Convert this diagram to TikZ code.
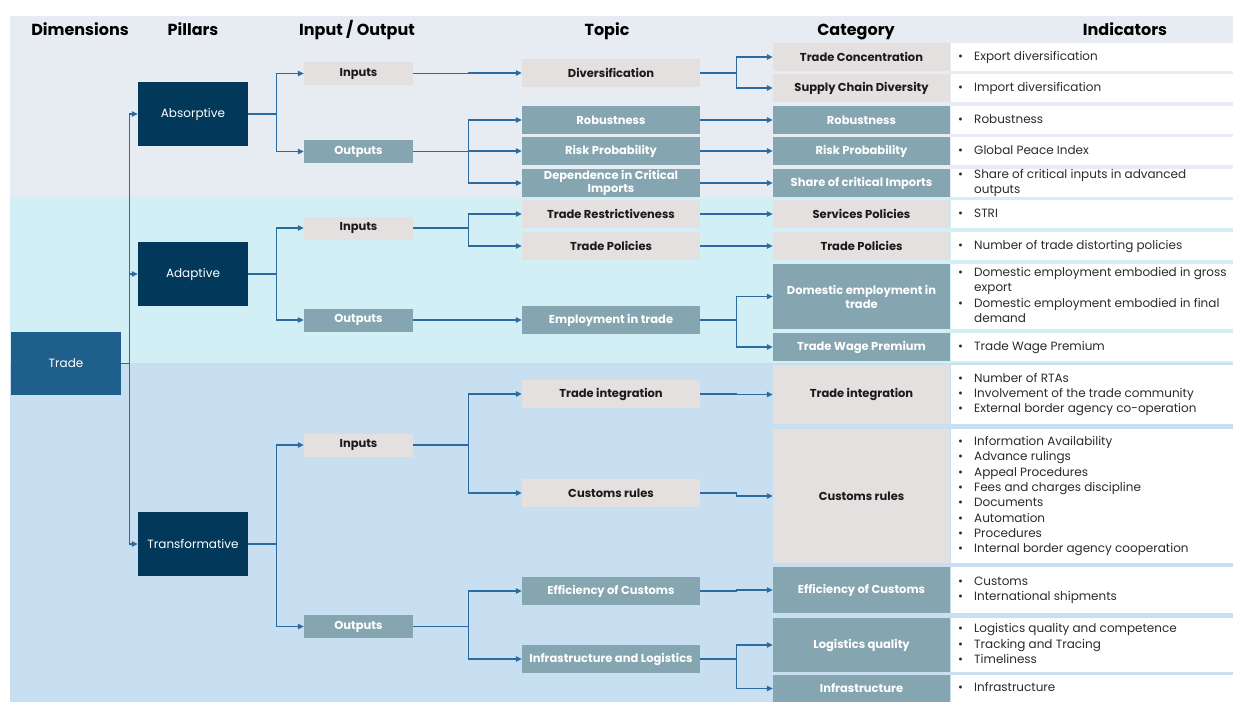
\documentclass[tikz,border=0pt]{standalone}
\usepackage{fontspec}
\setmainfont{Poppins}
\usetikzlibrary{arrows.meta}
\definecolor{bandA}{HTML}{E6ECF1}
\definecolor{bandB}{HTML}{D1EFF4}
\definecolor{bandC}{HTML}{C8DFF1}
\definecolor{navy}{HTML}{02395A}
\definecolor{tradeblue}{HTML}{1F5F8C}
\definecolor{lgray}{HTML}{E3E0DF}
\definecolor{tealbox}{HTML}{85A5B0}
\definecolor{connc}{HTML}{2D6AA0}
\definecolor{txtdark}{HTML}{1A1A1A}
\definecolor{indtxt}{HTML}{2B2B2B}
\newcommand{\indlist}[1]{\begin{tabular}{@{}p{16pt}@{}l@{}}#1\end{tabular}}
\newcommand{\bul}{\textbullet}
\begin{document}
\begin{tikzpicture}[x=1pt,y=-1pt,
  header/.style={inner sep=0, anchor=base, text=black, font=\bfseries\fontsize{16}{18}\selectfont},
  pillar/.style={fill=navy, text=white, minimum width=110pt, minimum height=64pt, inner sep=0, font=\fontsize{12}{14}\selectfont},
  iobox/.style={minimum width=109pt, minimum height=23pt, inner sep=0, font=\bfseries\fontsize{11.5}{13}\selectfont},
  gbox/.style={fill=lgray, text=txtdark},
  tbox/.style={fill=tealbox, text=white},
  topic/.style={minimum width=178pt, minimum height=28pt, inner sep=0, align=center, font=\bfseries\fontsize{11.5}{14}\selectfont},
  cat/.style={minimum width=177pt, inner sep=0, align=center, font=\bfseries\fontsize{11.5}{14}\selectfont},
  indbox/.style={fill=white, minimum width=282pt, inner sep=0},
  indtext/.style={anchor=west, inner sep=0, text=indtxt, font=\fontsize{12}{15.3}\selectfont},
  conn/.style={draw=connc, line width=1.1pt, -{Triangle[length=6pt,width=5.5pt]}}
]
\useasboundingbox (0,0) rectangle (1233,702);
\fill[bandA] (10,16) rectangle (1233,197);
\fill[bandB] (10,197) rectangle (1233,363);
\fill[bandC] (10,363) rectangle (1233,702);

% headers
\node[header] (h1) at (80,35) {Dimensions};
\node[header] (h2) at (193,35) {Pillars};
\node[header] (h3) at (357,35) {Input / Output};
\node[header] (h4) at (607,35) {Topic};
\node[header] (h5) at (856,35) {Category};
\node[header] (h6) at (1125,35) {Indicators};

% dimension and pillars
\node[pillar, fill=tradeblue, minimum height=63pt] (trade) at (66,363.5) {Trade};
\node[pillar] (abs) at (193,114) {Absorptive};
\node[pillar] (ada) at (193,274) {Adaptive};
\node[pillar] (tra) at (193,544) {Transformative};

% input / output
\node[iobox,gbox] (absin) at (358.5,73.5) {Inputs};
\node[iobox,tbox] (absout) at (358.5,151.5) {Outputs};
\node[iobox,gbox] (adain) at (358.5,228) {Inputs};
\node[iobox,tbox] (adaout) at (358.5,320) {Outputs};
\node[iobox,gbox] (train) at (358.5,445) {Inputs};
\node[iobox,tbox] (traout) at (358.5,626.5) {Outputs};

% topics
\node[topic,gbox] (div) at (611,73) {Diversification};
\node[topic,tbox] (rob) at (611,120) {Robustness};
\node[topic,tbox] (riskp) at (611,151) {Risk Probability};
\node[topic,tbox] (dep) at (611,183) {Dependence in Critical\\[-1.5pt]Imports};
\node[topic,gbox] (trest) at (611,214) {Trade Restrictiveness};
\node[topic,gbox] (tpol) at (611,246) {Trade Policies};
\node[topic,tbox] (emp) at (611,320) {Employment in trade};
\node[topic,gbox] (tint) at (611,394) {Trade integration};
\node[topic,gbox] (cust) at (611,493) {Customs rules};
\node[topic,tbox] (eff) at (611,591) {Efficiency of Customs};
\node[topic,tbox] (infl) at (611,659) {Infrastructure and Logistics};

% categories
\node[cat,gbox,minimum height=28pt] (ctc) at (861.5,57) {Trade Concentration};
\node[cat,gbox,minimum height=28pt] (cscd) at (861.5,88) {Supply Chain Diversity};
\node[cat,tbox,minimum height=28pt] (crob) at (861.5,120) {Robustness};
\node[cat,tbox,minimum height=28pt] (crp) at (861.5,151) {Risk Probability};
\node[cat,tbox,minimum height=28pt] (csci) at (861.5,183) {Share of critical Imports};
\node[cat,gbox,minimum height=28pt] (csp) at (861.5,214) {Services Policies};
\node[cat,gbox,minimum height=28pt] (ctp) at (861.5,246) {Trade Policies};
\node[cat,tbox,minimum height=65pt] (cde) at (861.5,296.5) {Domestic employment in\\trade};
\node[cat,tbox,minimum height=28pt] (ctwp) at (861.5,347) {Trade Wage Premium};
\node[cat,gbox,minimum height=59pt] (cti) at (861.5,394.5) {Trade integration};
\node[cat,gbox,minimum height=134pt] (ccr) at (861.5,496) {Customs rules};
\node[cat,tbox,minimum height=46pt] (cec) at (861.5,590) {Efficiency of Customs};
\node[cat,tbox,minimum height=54pt] (clq) at (861.5,645) {Logistics quality};
\node[cat,tbox,minimum height=27pt] (cinf) at (861.5,688.5) {Infrastructure};

% indicator boxes
\node[indbox,minimum height=28pt] (i1) at (1092,57) {};
\node[indbox,minimum height=28pt] (i2) at (1092,88) {};
\node[indbox,minimum height=28pt] (i3) at (1092,120) {};
\node[indbox,minimum height=28pt] (i4) at (1092,151) {};
\node[indbox,minimum height=28pt] (i5) at (1092,183) {};
\node[indbox,minimum height=28pt] (i6) at (1092,214) {};
\node[indbox,minimum height=28pt] (i7) at (1092,246) {};
\node[indbox,minimum height=65pt] (i8) at (1092,296.5) {};
\node[indbox,minimum height=28pt] (i9) at (1092,347) {};
\node[indbox,minimum height=59pt] (i10) at (1092,394.5) {};
\node[indbox,minimum height=134pt] (i11) at (1092,496) {};
\node[indbox,minimum height=46pt] (i12) at (1092,590) {};
\node[indbox,minimum height=54pt] (i13) at (1092,645) {};
\node[indbox,minimum height=27pt] (i14) at (1092,688.5) {};

% indicator texts
\node[indtext] (t1) at (958,57) {\indlist{\bul & Export diversification}};
\node[indtext] (t2) at (958,88) {\indlist{\bul & Import diversification}};
\node[indtext] (t3) at (958,120) {\indlist{\bul & Robustness}};
\node[indtext] (t4) at (958,151) {\indlist{\bul & Global Peace Index}};
\node[indtext] (t5) at (958,183) {\indlist{\bul & Share of critical inputs in advanced\\ & outputs}};
\node[indtext] (t6) at (958,214) {\indlist{\bul & STRI}};
\node[indtext] (t7) at (958,246) {\indlist{\bul & Number of trade distorting policies}};
\node[indtext] (t8) at (958,296.5) {\indlist{\bul & Domestic employment embodied in gross\\ & export\\ \bul & Domestic employment embodied in final\\ & demand}};
\node[indtext] (t9) at (958,347) {\indlist{\bul & Trade Wage Premium}};
\node[indtext] (t10) at (958,394.5) {\indlist{\bul & Number of RTAs\\ \bul & Involvement of the trade community\\ \bul & External border agency co-operation}};
\node[indtext] (t11) at (958,496) {\indlist{\bul & Information Availability\\ \bul & Advance rulings\\ \bul & Appeal Procedures\\ \bul & Fees and charges discipline\\ \bul & Documents\\ \bul & Automation\\ \bul & Procedures\\ \bul & Internal border agency cooperation}};
\node[indtext] (t12) at (958,590) {\indlist{\bul & Customs\\ \bul & International shipments}};
\node[indtext] (t13) at (958,645) {\indlist{\bul & Logistics quality and competence\\ \bul & Tracking and Tracing\\ \bul & Timeliness}};
\node[indtext] (t14) at (958,688.5) {\indlist{\bul & Infrastructure}};

% connectors: trade -> pillars
\draw[conn] (trade.east) -- ++(8,0) |- (abs.west);
\draw[conn] (trade.east) -- ++(8,0) |- (ada.west);
\draw[conn] (trade.east) -- ++(8,0) |- (tra.west);
% pillars -> io
\draw[conn] (abs.east) -- ++(28,0) |- (absin.west);
\draw[conn] (abs.east) -- ++(28,0) |- (absout.west);
\draw[conn] (ada.east) -- ++(28,0) |- (adain.west);
\draw[conn] (ada.east) -- ++(28,0) |- (adaout.west);
\draw[conn] (tra.east) -- ++(28,0) |- (train.west);
\draw[conn] (tra.east) -- ++(28,0) |- (traout.west);
% io -> topics
\draw[conn] (absin.east) -- ++(55,0) |- (div.west);
\draw[conn] (absout.east) -- ++(55,0) |- (rob.west);
\draw[conn] (absout.east) -- ++(55,0) |- (riskp.west);
\draw[conn] (absout.east) -- ++(55,0) |- (dep.west);
\draw[conn] (adain.east) -- ++(55,0) |- (trest.west);
\draw[conn] (adain.east) -- ++(55,0) |- (tpol.west);
\draw[conn] (adaout.east) -- ++(55,0) |- (emp.west);
\draw[conn] (train.east) -- ++(55,0) |- (tint.west);
\draw[conn] (train.east) -- ++(55,0) |- (cust.west);
\draw[conn] (traout.east) -- ++(55,0) |- (eff.west);
\draw[conn] (traout.east) -- ++(55,0) |- (infl.west);
% topics -> categories
\draw[conn] (div.east) -- ++(36,0) |- (ctc.west);
\draw[conn] (div.east) -- ++(36,0) |- (cscd.west);
\draw[conn] (rob.east) -- ++(36,0) |- (crob.west);
\draw[conn] (riskp.east) -- ++(36,0) |- (crp.west);
\draw[conn] (dep.east) -- ++(36,0) |- (csci.west);
\draw[conn] (trest.east) -- ++(36,0) |- (csp.west);
\draw[conn] (tpol.east) -- ++(36,0) |- (ctp.west);
\draw[conn] (emp.east) -- ++(36,0) |- (cde.west);
\draw[conn] (emp.east) -- ++(36,0) |- (ctwp.west);
\draw[conn] (tint.east) -- ++(36,0) |- (cti.west);
\draw[conn] (cust.east) -- ++(36,0) |- (ccr.west);
\draw[conn] (eff.east) -- ++(36,0) |- (cec.west);
\draw[conn] (infl.east) -- ++(36,0) |- (clq.west);
\draw[conn] (infl.east) -- ++(36,0) |- (cinf.west);
\end{tikzpicture}
\end{document}
